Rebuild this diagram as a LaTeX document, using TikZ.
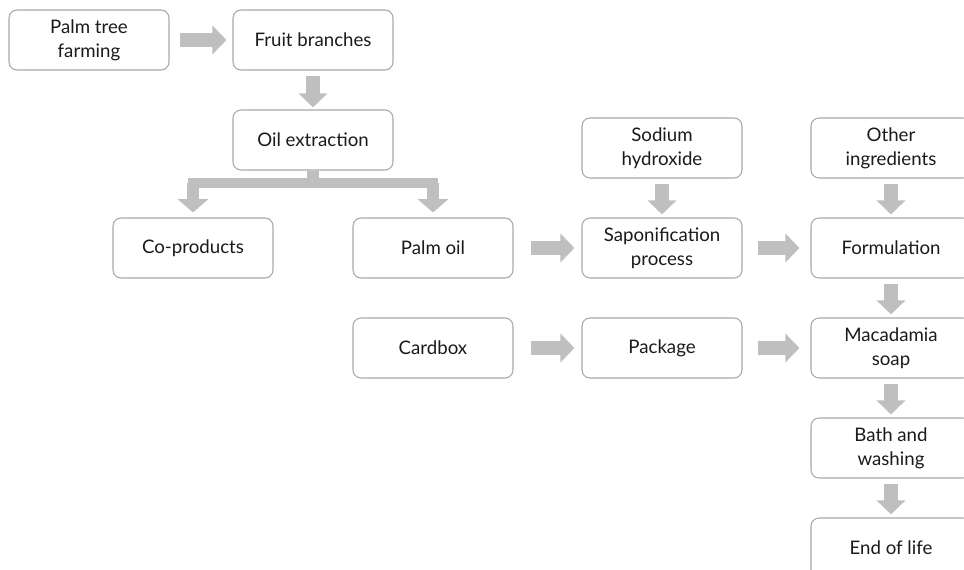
\documentclass[tikz,border=0pt]{standalone}
\usepackage{fontspec}
\setmainfont{Lato}
\usetikzlibrary{arrows.meta,calc}
\definecolor{boxline}{HTML}{A8A8A8}
\definecolor{arrowgray}{HTML}{BFBFBF}
\definecolor{txt}{HTML}{1A1A1A}
\begin{document}
\begin{tikzpicture}[x=0.75pt,y=-0.75pt,
  box/.style={draw=boxline, line width=0.8pt, rounded corners=6pt, minimum width=120pt, minimum height=45pt, align=center, font=\fontsize{14}{18}\selectfont, text=txt, inner sep=0pt},
  fat/.style={draw=arrowgray, line width=10.5pt, -{Triangle[width=21pt,length=10.5pt]}},
  fatb/.style={draw=arrowgray, line width=9pt, -{Triangle[width=22.5pt,length=10pt]}},
  stub/.style={draw=arrowgray, line width=9pt},
  hbar/.style={draw=arrowgray, line width=8pt, line cap=rect}]
\useasboundingbox (0,0) rectangle (964,570);
\node[box] (palm)  at (89,40)  {Palm tree\\farming};
\node[box] (fruit) at (313,40) {Fruit branches};
\node[box] (oil)   at (313,140) {Oil extraction};
\node[box] (co)    at (193,248) {Co-products};
\node[box] (poil)  at (433,248) {Palm oil};
\node[box] (sod)   at (662,148) {Sodium\\hydroxide};
\node[box] (sap)   at (662,248) {Saponification\\process};
\node[box] (other) at (891,148) {Other\\ingredients};
\node[box] (form)  at (891,248) {Formulation};
\node[box] (card)  at (433,348) {Cardbox};
\node[box] (pack)  at (662,348) {Package};
\node[box] (mac)   at (891,348) {Macadamia\\soap};
\node[box] (bath)  at (891,448) {Bath and\\washing};
\node[box] (end)   at (891,548) {End of life};
% horizontal arrows
\draw[fat] ($(palm.east)+(10,0)$) -- ($(fruit.west)+(-6,0)$);
\draw[fat] ($(poil.east)+(17,0)$) -- ($(sap.west)+(-7,0)$);
\draw[fat] ($(sap.east)+(15,0)$) -- ($(form.west)+(-11,0)$);
\draw[fat] ($(card.east)+(17,0)$) -- ($(pack.west)+(-7,0)$);
\draw[fat] ($(pack.east)+(15,0)$) -- ($(mac.west)+(-11,0)$);
% vertical arrows
\draw[fat] ($(fruit.south)+(0,5)$) -- ($(oil.north)+(0,-2)$);
\draw[fat] ($(sod.south)+(0,5)$) -- ($(sap.north)+(0,-3)$);
\draw[fat] ($(other.south)+(0,5)$) -- ($(form.north)+(0,-3)$);
\draw[fat] ($(form.south)+(0,5)$) -- ($(mac.north)+(0,-3)$);
\draw[fat] ($(mac.south)+(0,5)$) -- ($(bath.north)+(0,-3)$);
\draw[fat] ($(bath.south)+(0,5)$) -- ($(end.north)+(0,-3)$);
% branch
\coordinate (bj) at (313,183);
\draw[stub] (oil.south) -- (bj);
\draw[hbar] (co.north |- bj) -- (poil.north |- bj);
\draw[fatb] (co.north |- bj) -- ($(co.north)+(0,-5)$);
\draw[fatb] (poil.north |- bj) -- ($(poil.north)+(0,-5)$);
\end{tikzpicture}
\end{document}
